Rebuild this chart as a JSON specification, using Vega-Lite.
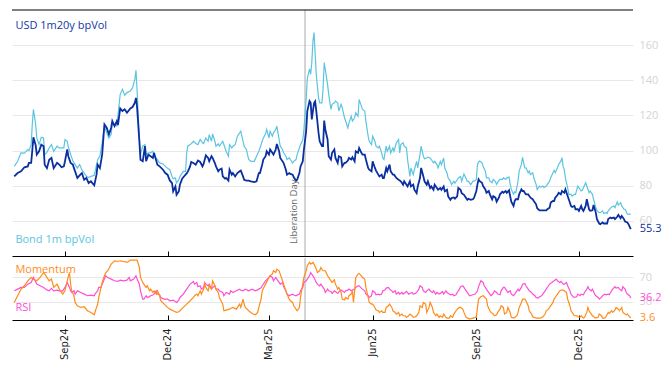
{
"$schema": "https://vega.github.io/schema/vega-lite/v6.json",
"padding": {"left": 10, "top": 9, "right": 0, "bottom": 0},
"background": "white",
"spacing": 0,
"config": {"view": {"stroke": null}, "font": "Open Sans"},
"datasets": {
"vol": [
{"d":"2024-07-18","u":85.3,"b":91},{"d":"2024-07-21","u":87.2,"b":93.9},{"d":"2024-07-24","u":88.2,"b":98.7},{"d":"2024-07-27","u":90.5,"b":98.5},{"d":"2024-07-30","u":91,"b":100.6},{"d":"2024-07-31","u":93,"b":100},{"d":"2024-08-02","u":93,"b":103.4},{"d":"2024-08-03","u":100,"b":114.9},{"d":"2024-08-04","u":107.6,"b":123.4},{"d":"2024-08-06","u":103,"b":114.9},{"d":"2024-08-07","u":97.7,"b":107.2},{"d":"2024-08-09","u":99.6,"b":103.4},{"d":"2024-08-11","u":103.4,"b":107.6},{"d":"2024-08-13","u":102.5,"b":107.2},{"d":"2024-08-14","u":92,"b":97.7},{"d":"2024-08-16","u":90,"b":99},{"d":"2024-08-18","u":94.8,"b":101.5},{"d":"2024-08-20","u":95.8,"b":103.4},{"d":"2024-08-22","u":90,"b":99.6},{"d":"2024-08-25","u":93,"b":102.5},{"d":"2024-08-27","u":92,"b":101.5},{"d":"2024-08-29","u":90.5,"b":101.5},{"d":"2024-08-31","u":91,"b":101.5},
{"d":"2024-09-01","u":93.9,"b":106.3},{"d":"2024-09-03","u":100.6,"b":105.3},{"d":"2024-09-04","u":96.8,"b":102},{"d":"2024-09-06","u":93,"b":98},{"d":"2024-09-08","u":92,"b":94},{"d":"2024-09-09","u":90,"b":93},{"d":"2024-09-12","u":84.4,"b":90},{"d":"2024-09-14","u":85.9,"b":92},{"d":"2024-09-16","u":87.2,"b":89.1},{"d":"2024-09-18","u":83.4,"b":87.2},{"d":"2024-09-20","u":84.4,"b":85.3},{"d":"2024-09-22","u":81.5,"b":84.7},{"d":"2024-09-24","u":82.5,"b":85.3},{"d":"2024-09-27","u":80.2,"b":85.9},{"d":"2024-09-29","u":86.3,"b":92},{"d":"2024-09-30","u":92,"b":94.8},
{"d":"2024-10-02","u":90,"b":96.8},{"d":"2024-10-04","u":97.7,"b":104.4},{"d":"2024-10-06","u":114.9,"b":114},{"d":"2024-10-08","u":113,"b":110.1},{"d":"2024-10-10","u":109.2,"b":107},{"d":"2024-10-12","u":113,"b":109.2},{"d":"2024-10-13","u":116.8,"b":115.8},{"d":"2024-10-15","u":113.9,"b":114.9},{"d":"2024-10-17","u":116.8,"b":114},{"d":"2024-10-18","u":114.5,"b":120},{"d":"2024-10-20","u":124,"b":132},{"d":"2024-10-22","u":122.5,"b":134.9},{"d":"2024-10-24","u":123.5,"b":131.5},{"d":"2024-10-26","u":121.5,"b":133},{"d":"2024-10-29","u":124,"b":133.9},{"d":"2024-10-31","u":124.8,"b":135.8},
{"d":"2024-11-02","u":127.2,"b":140.5},{"d":"2024-11-03","u":130,"b":145.7},{"d":"2024-11-04","u":124.4,"b":133.9},{"d":"2024-11-06","u":105.3,"b":107.2},{"d":"2024-11-07","u":94.8,"b":97.7},{"d":"2024-11-09","u":93.9,"b":102.5},{"d":"2024-11-11","u":102.5,"b":103.4},{"d":"2024-11-12","u":93.9,"b":97.7},{"d":"2024-11-14","u":97.7,"b":98.7},{"d":"2024-11-16","u":96.8,"b":98.7},{"d":"2024-11-18","u":95.8,"b":99.6},{"d":"2024-11-19","u":98.7,"b":97},{"d":"2024-11-22","u":92,"b":94.8},{"d":"2024-11-24","u":91,"b":93},{"d":"2024-11-27","u":89.1,"b":92.4},{"d":"2024-11-29","u":87.2,"b":91},
{"d":"2024-12-01","u":86.3,"b":90},{"d":"2024-12-03","u":83,"b":89.1},{"d":"2024-12-05","u":81.5,"b":85.3},{"d":"2024-12-06","u":76.8,"b":84},{"d":"2024-12-08","u":79.6,"b":84.4},{"d":"2024-12-09","u":74.9,"b":81.5},{"d":"2024-12-11","u":76.8,"b":83.4},{"d":"2024-12-12","u":80.6,"b":85.3},{"d":"2024-12-14","u":84,"b":87.2},{"d":"2024-12-15","u":84.8,"b":88.2},{"d":"2024-12-17","u":86.3,"b":88.2},{"d":"2024-12-18","u":87,"b":98.7},{"d":"2024-12-19","u":88,"b":102.5},{"d":"2024-12-21","u":91,"b":103.4},{"d":"2024-12-22","u":93.5,"b":103.8},{"d":"2024-12-24","u":92.9,"b":105.3},{"d":"2024-12-26","u":92,"b":104},{"d":"2024-12-28","u":94.3,"b":103.4},{"d":"2024-12-30","u":93.5,"b":106.3},
{"d":"2025-01-01","u":91,"b":104.4},{"d":"2025-01-02","u":92.4,"b":104},{"d":"2025-01-04","u":97.3,"b":107.2},{"d":"2025-01-06","u":95.8,"b":105.3},{"d":"2025-01-07","u":93.9,"b":109.1},{"d":"2025-01-09","u":96.8,"b":105.3},{"d":"2025-01-10","u":95.8,"b":109.5},{"d":"2025-01-12","u":92.9,"b":105.3},{"d":"2025-01-13","u":91,"b":102.5},{"d":"2025-01-15","u":88.2,"b":103.8},{"d":"2025-01-16","u":89.1,"b":102.5},{"d":"2025-01-18","u":89.7,"b":104.4},{"d":"2025-01-19","u":85.3,"b":105.3},{"d":"2025-01-21","u":84,"b":101.5},{"d":"2025-01-22","u":84.4,"b":99.6},{"d":"2025-01-24","u":82.9,"b":96.8},{"d":"2025-01-25","u":89.1,"b":103.4},{"d":"2025-01-27","u":86.3,"b":101.5},{"d":"2025-01-28","u":87.2,"b":102.5},{"d":"2025-01-30","u":85.3,"b":103.4},
{"d":"2025-02-01","u":87.2,"b":108.2},{"d":"2025-02-03","u":88.2,"b":110.1},{"d":"2025-02-04","u":88.6,"b":111},{"d":"2025-02-06","u":85.3,"b":105.3},{"d":"2025-02-07","u":83.4,"b":102.5},{"d":"2025-02-09","u":82.9,"b":100.6},{"d":"2025-02-11","u":82.9,"b":94.9},{"d":"2025-02-13","u":82.5,"b":93.9},{"d":"2025-02-16","u":82.1,"b":93.9},{"d":"2025-02-18","u":82.5,"b":96.8},{"d":"2025-02-20","u":87.2,"b":99.6},{"d":"2025-02-21","u":87.2,"b":101.5},{"d":"2025-02-23","u":92,"b":105.3},{"d":"2025-02-24","u":94.9,"b":107.2},{"d":"2025-02-26","u":96.8,"b":109.5},{"d":"2025-02-27","u":99.6,"b":112},
{"d":"2025-03-01","u":97.7,"b":107.2},{"d":"2025-03-02","u":100.6,"b":111},{"d":"2025-03-04","u":98.7,"b":108.2},{"d":"2025-03-05","u":97.7,"b":110.1},{"d":"2025-03-07","u":100.6,"b":112},{"d":"2025-03-08","u":103.8,"b":113.9},{"d":"2025-03-10","u":99.6,"b":106.3},{"d":"2025-03-11","u":95.8,"b":102.5},{"d":"2025-03-13","u":93.9,"b":100.6},{"d":"2025-03-14","u":92.9,"b":98.7},{"d":"2025-03-16","u":89.1,"b":96.8},{"d":"2025-03-17","u":86.3,"b":94.9},{"d":"2025-03-19","u":87.2,"b":95.8},{"d":"2025-03-20","u":86.7,"b":94.9},{"d":"2025-03-22","u":86.3,"b":92.9},{"d":"2025-03-23","u":84.8,"b":93.9},{"d":"2025-03-25","u":82.9,"b":94.9},{"d":"2025-03-26","u":83.4,"b":97.7},{"d":"2025-03-28","u":87.2,"b":101.5},{"d":"2025-03-29","u":91,"b":103.4},{"d":"2025-03-31","u":93.9,"b":106},
{"d":"2025-04-01","u":100.6,"b":112},{"d":"2025-04-03","u":111,"b":129},{"d":"2025-04-04","u":122.5,"b":141},{"d":"2025-04-06","u":128.2,"b":146.5},{"d":"2025-04-07","u":127.2,"b":143.4},{"d":"2025-04-08","u":117.7,"b":150},{"d":"2025-04-09","u":122.5,"b":162},{"d":"2025-04-10","u":127,"b":167.2},{"d":"2025-04-11","u":128,"b":154.9},{"d":"2025-04-12","u":122.5,"b":143},{"d":"2025-04-14","u":110,"b":130},{"d":"2025-04-15","u":105.3,"b":127.2},{"d":"2025-04-17","u":102.5,"b":127.2},{"d":"2025-04-18","u":102.5,"b":135},{"d":"2025-04-19","u":117.1,"b":150},{"d":"2025-04-20","u":112,"b":146},{"d":"2025-04-22","u":106.3,"b":137.7},{"d":"2025-04-23","u":96.8,"b":132},{"d":"2025-04-25","u":94.9,"b":123.4},{"d":"2025-04-26","u":98.7,"b":126.3},{"d":"2025-04-28","u":100.6,"b":127.2},{"d":"2025-04-29","u":95.8,"b":128.2},
{"d":"2025-05-01","u":93,"b":127.2},{"d":"2025-05-02","u":96.8,"b":122.5},{"d":"2025-05-04","u":96.2,"b":126.3},{"d":"2025-05-05","u":91,"b":124.4},{"d":"2025-05-07","u":93,"b":118.7},{"d":"2025-05-08","u":93,"b":116.8},{"d":"2025-05-10","u":94.3,"b":112.9},{"d":"2025-05-11","u":95.8,"b":115.8},{"d":"2025-05-13","u":94.9,"b":119.6},{"d":"2025-05-14","u":96.2,"b":116.8},{"d":"2025-05-16","u":93.9,"b":118.7},{"d":"2025-05-17","u":99.6,"b":121.5},{"d":"2025-05-19","u":98.7,"b":119.6},{"d":"2025-05-20","u":101.5,"b":129.1},{"d":"2025-05-22","u":98.7,"b":125.3},{"d":"2025-05-23","u":97.7,"b":123.4},{"d":"2025-05-25","u":97.7,"b":122.5},{"d":"2025-05-26","u":94.9,"b":116.8},{"d":"2025-05-28","u":90.1,"b":108.2},{"d":"2025-05-29","u":89.1,"b":105.3},{"d":"2025-05-31","u":88.2,"b":103.4},
{"d":"2025-06-01","u":93.9,"b":108.2},{"d":"2025-06-03","u":90.1,"b":105.3},{"d":"2025-06-04","u":88.6,"b":102.5},{"d":"2025-06-06","u":86.3,"b":101.5},{"d":"2025-06-07","u":85.3,"b":102.5},{"d":"2025-06-09","u":86.3,"b":98.7},{"d":"2025-06-10","u":84.4,"b":95.8},{"d":"2025-06-11","u":84.4,"b":94.9},{"d":"2025-06-13","u":90.1,"b":102.5},{"d":"2025-06-14","u":88.2,"b":99.6},{"d":"2025-06-16","u":92,"b":102.5},{"d":"2025-06-17","u":88.2,"b":98.7},{"d":"2025-06-19","u":86.3,"b":101.5},{"d":"2025-06-20","u":86.3,"b":99.6},{"d":"2025-06-22","u":84.4,"b":104.4},{"d":"2025-06-24","u":83.4,"b":106.3},{"d":"2025-06-25","u":83,"b":98.7},{"d":"2025-06-26","u":82.5,"b":103.4},{"d":"2025-06-28","u":80.6,"b":104.4},{"d":"2025-06-29","u":82.5,"b":102.5},
{"d":"2025-07-01","u":80.6,"b":101.5},{"d":"2025-07-02","u":79.6,"b":94.9},{"d":"2025-07-04","u":82.5,"b":85.3},{"d":"2025-07-05","u":79.6,"b":90.1},{"d":"2025-07-07","u":80.6,"b":86.3},{"d":"2025-07-08","u":77.7,"b":89.1},{"d":"2025-07-10","u":75.8,"b":93.9},{"d":"2025-07-11","u":79.6,"b":90.1},{"d":"2025-07-13","u":84.4,"b":97.7},{"d":"2025-07-14","u":90.1,"b":102.5},{"d":"2025-07-16","u":85.3,"b":96.8},{"d":"2025-07-17","u":82.5,"b":95.4},{"d":"2025-07-19","u":80.6,"b":95.8},{"d":"2025-07-20","u":82.5,"b":96.2},{"d":"2025-07-22","u":78.7,"b":95.8},{"d":"2025-07-23","u":79.6,"b":94.9},{"d":"2025-07-25","u":77.7,"b":93},{"d":"2025-07-26","u":80.6,"b":93.9},{"d":"2025-07-28","u":78.7,"b":92},{"d":"2025-07-29","u":77.7,"b":90.1},{"d":"2025-07-31","u":78.7,"b":93.9},
{"d":"2025-08-01","u":77.7,"b":92},{"d":"2025-08-03","u":79.6,"b":95.8},{"d":"2025-08-04","u":76.8,"b":90.1},{"d":"2025-08-06","u":77.7,"b":87.2},{"d":"2025-08-07","u":73.9,"b":84.4},{"d":"2025-08-09","u":72,"b":82.5},{"d":"2025-08-10","u":73,"b":80.6},{"d":"2025-08-12","u":73.3,"b":82.5},{"d":"2025-08-13","u":72.6,"b":81.5},{"d":"2025-08-15","u":73.9,"b":83.4},{"d":"2025-08-16","u":78.7,"b":84.4},{"d":"2025-08-18","u":77.7,"b":85.3},{"d":"2025-08-19","u":75.8,"b":82.5},{"d":"2025-08-21","u":74.8,"b":86.7},{"d":"2025-08-22","u":73.9,"b":85.3},{"d":"2025-08-24","u":72,"b":82.5},{"d":"2025-08-25","u":72.6,"b":82.5},{"d":"2025-08-27","u":72,"b":80.6},{"d":"2025-08-29","u":72.3,"b":82.6},{"d":"2025-08-30","u":73.2,"b":82.6},
{"d":"2025-09-01","u":77,"b":83.6},{"d":"2025-09-02","u":80.8,"b":92.1},{"d":"2025-09-03","u":83.6,"b":93.5},{"d":"2025-09-04","u":82.6,"b":94},{"d":"2025-09-06","u":81.7,"b":93},{"d":"2025-09-07","u":79.8,"b":91.1},{"d":"2025-09-09","u":77.9,"b":88.3},{"d":"2025-09-10","u":76,"b":84.5},{"d":"2025-09-12","u":77,"b":84.5},{"d":"2025-09-13","u":75.1,"b":82.6},{"d":"2025-09-15","u":72.3,"b":81.7},{"d":"2025-09-16","u":74.1,"b":83.6},{"d":"2025-09-18","u":73.2,"b":82.3},{"d":"2025-09-19","u":70.9,"b":80.8},{"d":"2025-09-21","u":73.2,"b":83},{"d":"2025-09-22","u":75.1,"b":83.6},{"d":"2025-09-24","u":76.6,"b":83.6},{"d":"2025-09-25","u":76,"b":84.5},{"d":"2025-09-27","u":77,"b":83.6},{"d":"2025-09-28","u":76,"b":84.5},{"d":"2025-09-30","u":77.4,"b":84.9},
{"d":"2025-10-01","u":74.1,"b":81},{"d":"2025-10-02","u":70.9,"b":77.9},{"d":"2025-10-04","u":68.5,"b":75.1},{"d":"2025-10-05","u":71.3,"b":76.5},{"d":"2025-10-06","u":72.3,"b":76},{"d":"2025-10-08","u":72.3,"b":82.6},{"d":"2025-10-09","u":75.1,"b":88.3},{"d":"2025-10-11","u":77.9,"b":92.1},{"d":"2025-10-12","u":77,"b":96.2},{"d":"2025-10-13","u":77,"b":93},{"d":"2025-10-14","u":76,"b":90.2},{"d":"2025-10-15","u":75.1,"b":90.2},{"d":"2025-10-17","u":75.1,"b":87.4},{"d":"2025-10-18","u":74.1,"b":88.3},{"d":"2025-10-19","u":73.2,"b":86.4},{"d":"2025-10-21","u":72.3,"b":87.4},{"d":"2025-10-22","u":71.3,"b":84.5},{"d":"2025-10-24","u":69.4,"b":80.8},{"d":"2025-10-25","u":67.2,"b":77.9},{"d":"2025-10-27","u":66,"b":79.8},{"d":"2025-10-28","u":66,"b":79.2},{"d":"2025-10-30","u":66,"b":79.8},{"d":"2025-10-31","u":66,"b":78.9},
{"d":"2025-11-02","u":66,"b":79.8},{"d":"2025-11-03","u":66.6,"b":80.8},{"d":"2025-11-05","u":67.5,"b":82.6},{"d":"2025-11-06","u":70.4,"b":84.5},{"d":"2025-11-08","u":71.3,"b":87.4},{"d":"2025-11-09","u":71.3,"b":88.7},{"d":"2025-11-10","u":73.2,"b":87.4},{"d":"2025-11-12","u":74.7,"b":90.2},{"d":"2025-11-13","u":76,"b":92.1},{"d":"2025-11-15","u":75.1,"b":94},{"d":"2025-11-16","u":77,"b":96},{"d":"2025-11-17","u":76.5,"b":91},{"d":"2025-11-18","u":76,"b":89.2},{"d":"2025-11-19","u":77.9,"b":84.5},{"d":"2025-11-21","u":74.1,"b":78.9},{"d":"2025-11-22","u":72.3,"b":75.1},{"d":"2025-11-24","u":68.5,"b":75.1},{"d":"2025-11-25","u":67.9,"b":74.1},{"d":"2025-11-27","u":68.5,"b":75.1},{"d":"2025-11-28","u":66.6,"b":75.1},{"d":"2025-11-30","u":66.6,"b":79.8},
{"d":"2025-12-01","u":65.7,"b":78.9},{"d":"2025-12-03","u":68.5,"b":77},{"d":"2025-12-04","u":66.6,"b":77.4},{"d":"2025-12-05","u":65.7,"b":78.9},{"d":"2025-12-07","u":68.5,"b":81.7},{"d":"2025-12-08","u":72.3,"b":79.8},{"d":"2025-12-10","u":66.6,"b":76},{"d":"2025-12-11","u":65.7,"b":77},{"d":"2025-12-13","u":66,"b":75.1},{"d":"2025-12-14","u":69,"b":72.3},{"d":"2025-12-16","u":64.7,"b":67.5},{"d":"2025-12-17","u":61,"b":66},{"d":"2025-12-19","u":58.5,"b":64.7},{"d":"2025-12-20","u":58.1,"b":64.7},{"d":"2025-12-22","u":59.1,"b":65.7},{"d":"2025-12-23","u":58.5,"b":64.2},{"d":"2025-12-25","u":58.5,"b":64.7},{"d":"2025-12-26","u":58.5,"b":64.2},{"d":"2025-12-27","u":61,"b":65.7},{"d":"2025-12-29","u":61.9,"b":67.2},{"d":"2025-12-30","u":61.5,"b":67.9},
{"d":"2026-01-01","u":61.9,"b":68.5},{"d":"2026-01-02","u":61,"b":67.5},{"d":"2026-01-04","u":62.3,"b":70.8},{"d":"2026-01-05","u":63.4,"b":69},{"d":"2026-01-07","u":61.5,"b":70.4},{"d":"2026-01-08","u":62.8,"b":68.5},{"d":"2026-01-10","u":61,"b":66.6},{"d":"2026-01-11","u":59.6,"b":66.6},{"d":"2026-01-13","u":59.1,"b":63.8},{"d":"2026-01-14","u":58.1,"b":63.8},{"d":"2026-01-16","u":55.3,"b":63.8}
],
"osc": [
{"d":"2024-07-18","m":28.9,"r":48},{"d":"2024-07-21","m":39.9,"r":50.8},{"d":"2024-07-24","m":50.8,"r":53.6},{"d":"2024-07-27","m":56.3,"r":53.6},{"d":"2024-07-30","m":64.5,"r":59},{"d":"2024-08-02","m":70,"r":61.8},{"d":"2024-08-04","m":67.3,"r":70},{"d":"2024-08-07","m":64.5,"r":59},{"d":"2024-08-10","m":70,"r":56.3},{"d":"2024-08-13","m":78.2,"r":53.6},{"d":"2024-08-16","m":70,"r":49.5},{"d":"2024-08-18","m":64.5,"r":48},{"d":"2024-08-20","m":67.3,"r":52},{"d":"2024-08-22","m":53.6,"r":48},{"d":"2024-08-25","m":59,"r":49},{"d":"2024-08-27","m":50.8,"r":48},{"d":"2024-08-30","m":42.6,"r":48},
{"d":"2024-09-01","m":48,"r":53.6},{"d":"2024-09-03","m":64.5,"r":61.8},{"d":"2024-09-05","m":78.2,"r":53.6},{"d":"2024-09-06","m":59,"r":48},{"d":"2024-09-07","m":48,"r":45.3},{"d":"2024-09-09","m":39.9,"r":48},{"d":"2024-09-10","m":28.9,"r":42.6},{"d":"2024-09-12","m":23.4,"r":48},{"d":"2024-09-15","m":20.7,"r":45.3},{"d":"2024-09-18","m":21.8,"r":42.6},{"d":"2024-09-21","m":15.2,"r":39.9},{"d":"2024-09-24","m":12.5,"r":41},{"d":"2024-09-27","m":8.6,"r":39.9},{"d":"2024-09-28","m":15.2,"r":44},{"d":"2024-09-30","m":26.2,"r":48},
{"d":"2024-10-01","m":37.1,"r":53.6},{"d":"2024-10-03","m":53.6,"r":53.6},{"d":"2024-10-04","m":61.8,"r":59},{"d":"2024-10-06","m":72.7,"r":67.3},{"d":"2024-10-07","m":77,"r":72.7},{"d":"2024-10-09","m":81,"r":70},{"d":"2024-10-12","m":91.9,"r":67.3},{"d":"2024-10-15","m":97.4,"r":64.5},{"d":"2024-10-18","m":96.3,"r":63.4},{"d":"2024-10-20","m":97.4,"r":65.6},{"d":"2024-10-23","m":96.3,"r":64.5},{"d":"2024-10-26","m":94.7,"r":65.6},{"d":"2024-10-28","m":97,"r":70},{"d":"2024-10-29","m":98.5,"r":64.5},
{"d":"2024-11-01","m":98.5,"r":67.3},{"d":"2024-11-03","m":98.5,"r":72.7},{"d":"2024-11-04","m":98.5,"r":67.3},{"d":"2024-11-06","m":86.4,"r":59},{"d":"2024-11-07","m":70,"r":48},{"d":"2024-11-09","m":61.8,"r":34.4},{"d":"2024-11-10","m":59,"r":34.4},{"d":"2024-11-12","m":53.6,"r":39.9},{"d":"2024-11-13","m":56.3,"r":37.1},{"d":"2024-11-15","m":48,"r":38.5},{"d":"2024-11-16","m":50.8,"r":39.9},{"d":"2024-11-18","m":45.3,"r":41},{"d":"2024-11-19","m":48,"r":42.6},{"d":"2024-11-21","m":42.6,"r":48},{"d":"2024-11-22","m":48,"r":42.6},{"d":"2024-11-24","m":39.9,"r":41.5},{"d":"2024-11-25","m":31.6,"r":37.1},{"d":"2024-11-28","m":26.2,"r":34.4},
{"d":"2024-12-01","m":20.7,"r":34.4},{"d":"2024-12-03","m":17.9,"r":31.6},{"d":"2024-12-06","m":15.2,"r":32.8},{"d":"2024-12-09","m":12.5,"r":28.9},{"d":"2024-12-11","m":13.5,"r":32.8},{"d":"2024-12-12","m":15.2,"r":37.1},{"d":"2024-12-15","m":20.7,"r":42.6},{"d":"2024-12-18","m":26.2,"r":50.8},{"d":"2024-12-21","m":31.6,"r":59},{"d":"2024-12-24","m":37.1,"r":63.4},{"d":"2024-12-25","m":40,"r":59},{"d":"2024-12-27","m":42.6,"r":61.8},{"d":"2024-12-28","m":39.9,"r":54.7},{"d":"2024-12-30","m":48,"r":56.3},{"d":"2024-12-31","m":42.6,"r":50.8},
{"d":"2025-01-02","m":50.8,"r":53.6},{"d":"2025-01-03","m":59,"r":61.8},{"d":"2025-01-04","m":53.6,"r":59},{"d":"2025-01-06","m":48,"r":56.3},{"d":"2025-01-07","m":56.3,"r":59},{"d":"2025-01-09","m":50.8,"r":50.8},{"d":"2025-01-10","m":64.5,"r":53.6},{"d":"2025-01-12","m":56.3,"r":56.3},{"d":"2025-01-13","m":50.8,"r":50.8},{"d":"2025-01-15","m":45.3,"r":50.8},{"d":"2025-01-16","m":37.1,"r":48},{"d":"2025-01-19","m":26.2,"r":45.3},{"d":"2025-01-20","m":15.2,"r":39.9},{"d":"2025-01-22","m":16.3,"r":45.3},{"d":"2025-01-25","m":17.9,"r":42.6},{"d":"2025-01-26","m":19,"r":48},{"d":"2025-01-28","m":20.7,"r":45.3},{"d":"2025-01-31","m":17.9,"r":48},
{"d":"2025-02-03","m":26.2,"r":50.8},{"d":"2025-02-04","m":20.7,"r":49},{"d":"2025-02-06","m":34.4,"r":48},{"d":"2025-02-07","m":26.2,"r":49.5},{"d":"2025-02-08","m":20.7,"r":50.8},{"d":"2025-02-11","m":15.2,"r":48},{"d":"2025-02-14","m":10.8,"r":50.8},{"d":"2025-02-17","m":8.6,"r":48},{"d":"2025-02-19","m":12.5,"r":49.5},{"d":"2025-02-20","m":20.7,"r":50.8},{"d":"2025-02-22","m":34.4,"r":53},{"d":"2025-02-23","m":48,"r":56.3},{"d":"2025-02-26","m":59,"r":64.5},
{"d":"2025-03-01","m":70,"r":70},{"d":"2025-03-02","m":73,"r":72.7},{"d":"2025-03-04","m":75.5,"r":70},{"d":"2025-03-05","m":81,"r":64.5},{"d":"2025-03-07","m":78.2,"r":70},{"d":"2025-03-08","m":83.7,"r":67.3},{"d":"2025-03-10","m":81,"r":61.8},{"d":"2025-03-11","m":75.5,"r":59},{"d":"2025-03-13","m":64.5,"r":61.8},{"d":"2025-03-14","m":59,"r":55},{"d":"2025-03-16","m":48,"r":48},{"d":"2025-03-17","m":42.6,"r":42.6},{"d":"2025-03-19","m":34.4,"r":39.9},{"d":"2025-03-20","m":31.6,"r":41},{"d":"2025-03-22","m":28.9,"r":42.6},{"d":"2025-03-23","m":23.4,"r":41},{"d":"2025-03-25","m":17.9,"r":39.9},{"d":"2025-03-26","m":15.2,"r":41},{"d":"2025-03-28","m":20.7,"r":42.6},{"d":"2025-03-29","m":37.1,"r":48},{"d":"2025-03-31","m":59,"r":53.6},
{"d":"2025-04-01","m":70,"r":61.8},{"d":"2025-04-03","m":81,"r":64.5},{"d":"2025-04-04","m":89.2,"r":67.3},{"d":"2025-04-06","m":94.7,"r":72.7},{"d":"2025-04-07","m":91.9,"r":78.2},{"d":"2025-04-09","m":94.7,"r":72.7},{"d":"2025-04-10","m":91.9,"r":70},{"d":"2025-04-12","m":83.7,"r":61.8},{"d":"2025-04-13","m":78.2,"r":59},{"d":"2025-04-15","m":81,"r":56.3},{"d":"2025-04-16","m":86.4,"r":59},{"d":"2025-04-18","m":81,"r":53.6},{"d":"2025-04-19","m":81,"r":50.8},{"d":"2025-04-20","m":81,"r":45.3},{"d":"2025-04-22","m":72.7,"r":50.8},{"d":"2025-04-23","m":70,"r":48},{"d":"2025-04-25","m":64.5,"r":47},{"d":"2025-04-26","m":61.8,"r":43.7},{"d":"2025-04-28","m":66.2,"r":48},{"d":"2025-04-29","m":59,"r":47},
{"d":"2025-05-01","m":50.8,"r":43.7},{"d":"2025-05-02","m":53.6,"r":46.4},{"d":"2025-05-04","m":45.3,"r":49.2},{"d":"2025-05-05","m":34.4,"r":48},{"d":"2025-05-07","m":32.8,"r":45.3},{"d":"2025-05-08","m":37.1,"r":48},{"d":"2025-05-10","m":34.4,"r":49.2},{"d":"2025-05-11","m":39.9,"r":50.8},{"d":"2025-05-13","m":42.6,"r":48},{"d":"2025-05-14","m":48,"r":49.2},{"d":"2025-05-15","m":28.9,"r":50},{"d":"2025-05-16","m":48,"r":50.8},{"d":"2025-05-17","m":70,"r":53.6},{"d":"2025-05-19","m":75.5,"r":56.3},{"d":"2025-05-20","m":76.6,"r":56.3},{"d":"2025-05-22","m":72.7,"r":52.5},{"d":"2025-05-23","m":70,"r":50.8},{"d":"2025-05-25","m":67.3,"r":48},{"d":"2025-05-26","m":53.6,"r":42.6},{"d":"2025-05-28","m":37.1,"r":39.9},{"d":"2025-05-29","m":28.9,"r":37.1},{"d":"2025-05-31","m":26.2,"r":39.9},
{"d":"2025-06-01","m":26.2,"r":48},{"d":"2025-06-03","m":20.7,"r":45.3},{"d":"2025-06-04","m":16.3,"r":41.5},{"d":"2025-06-06","m":15.2,"r":42.6},{"d":"2025-06-07","m":12.5,"r":41.5},{"d":"2025-06-09","m":15.2,"r":42.6},{"d":"2025-06-10","m":12.5,"r":48},{"d":"2025-06-12","m":12.5,"r":49.2},{"d":"2025-06-13","m":20.7,"r":52.5},{"d":"2025-06-15","m":23.4,"r":53.6},{"d":"2025-06-16","m":26.2,"r":50.8},{"d":"2025-06-18","m":20.7,"r":48},{"d":"2025-06-19","m":15.2,"r":45.3},{"d":"2025-06-21","m":12.5,"r":48},{"d":"2025-06-22","m":9.8,"r":42.6},{"d":"2025-06-24","m":12.5,"r":45.3},{"d":"2025-06-25","m":7,"r":42.6},{"d":"2025-06-27","m":9.8,"r":45.3},{"d":"2025-06-28","m":7,"r":42.6},{"d":"2025-06-30","m":7,"r":45.3},
{"d":"2025-07-01","m":4.3,"r":47},{"d":"2025-07-03","m":7,"r":42.6},{"d":"2025-07-04","m":9.8,"r":43.7},{"d":"2025-07-06","m":7,"r":45.3},{"d":"2025-07-07","m":4.3,"r":42.6},{"d":"2025-07-09","m":5.3,"r":43.7},{"d":"2025-07-10","m":7,"r":45.3},{"d":"2025-07-12","m":12.5,"r":50.8},{"d":"2025-07-13","m":23.4,"r":56.3},{"d":"2025-07-15","m":20.7,"r":53.6},{"d":"2025-07-16","m":28.9,"r":48},{"d":"2025-07-18","m":26.2,"r":45.3},{"d":"2025-07-19","m":12.5,"r":48},{"d":"2025-07-21","m":20.7,"r":50.8},{"d":"2025-07-22","m":28.9,"r":48},{"d":"2025-07-24","m":20.7,"r":45.3},{"d":"2025-07-25","m":12.5,"r":48},{"d":"2025-07-27","m":7,"r":42.6},{"d":"2025-07-28","m":9.8,"r":45.3},{"d":"2025-07-30","m":4.3,"r":42.6},{"d":"2025-07-31","m":7,"r":43.7},
{"d":"2025-08-02","m":4.3,"r":47},{"d":"2025-08-03","m":9.8,"r":42.6},{"d":"2025-08-05","m":4.3,"r":48},{"d":"2025-08-06","m":3.2,"r":45.3},{"d":"2025-08-08","m":3.2,"r":42.6},{"d":"2025-08-09","m":7,"r":41.5},{"d":"2025-08-11","m":4.3,"r":42.6},{"d":"2025-08-12","m":9.8,"r":39.9},{"d":"2025-08-14","m":15.2,"r":41.5},{"d":"2025-08-15","m":17.9,"r":45.3},{"d":"2025-08-17","m":20.7,"r":50.8},{"d":"2025-08-18","m":20.7,"r":54.7},{"d":"2025-08-20","m":17.9,"r":56.3},{"d":"2025-08-21","m":12.5,"r":53.6},{"d":"2025-08-23","m":4.3,"r":48},{"d":"2025-08-26","m":1.5,"r":39.9},{"d":"2025-08-29","m":3.2,"r":41.5},{"d":"2025-08-31","m":4.3,"r":42.6},
{"d":"2025-09-01","m":4.3,"r":45.3},{"d":"2025-09-02","m":20.7,"r":48},{"d":"2025-09-03","m":34.4,"r":55},{"d":"2025-09-05","m":38.2,"r":64.5},{"d":"2025-09-07","m":39.9,"r":61.8},{"d":"2025-09-08","m":38.2,"r":56.3},{"d":"2025-09-10","m":34.4,"r":50.8},{"d":"2025-09-11","m":23.4,"r":48},{"d":"2025-09-13","m":15.2,"r":42.6},{"d":"2025-09-14","m":12.5,"r":39.9},{"d":"2025-09-16","m":9.8,"r":43.7},{"d":"2025-09-17","m":7,"r":48},{"d":"2025-09-19","m":8.6,"r":45.3},{"d":"2025-09-20","m":12.5,"r":42.6},{"d":"2025-09-22","m":17.9,"r":41.5},{"d":"2025-09-23","m":23.4,"r":48},{"d":"2025-09-25","m":20.7,"r":53.6},{"d":"2025-09-26","m":9.8,"r":53.6},{"d":"2025-09-28","m":12.5,"r":48},{"d":"2025-09-29","m":20.7,"r":45.3},
{"d":"2025-10-01","m":12.5,"r":48},{"d":"2025-10-02","m":4.3,"r":42.6},{"d":"2025-10-04","m":3.2,"r":39.9},{"d":"2025-10-05","m":4.3,"r":42.6},{"d":"2025-10-07","m":7,"r":48},{"d":"2025-10-08","m":12.5,"r":50.8},{"d":"2025-10-09","m":20.7,"r":48},{"d":"2025-10-11","m":28.9,"r":53.6},{"d":"2025-10-12","m":34.4,"r":59},{"d":"2025-10-14","m":34.4,"r":60},{"d":"2025-10-15","m":31.6,"r":56.3},{"d":"2025-10-17","m":23.4,"r":50.8},{"d":"2025-10-18","m":15.2,"r":48},{"d":"2025-10-20","m":9.8,"r":45.3},{"d":"2025-10-21","m":5.3,"r":42.6},{"d":"2025-10-23","m":4,"r":39.9},{"d":"2025-10-24","m":3.2,"r":37.1},{"d":"2025-10-26","m":3.2,"r":36},{"d":"2025-10-27","m":3.2,"r":38.2},{"d":"2025-10-29","m":4,"r":39.9},{"d":"2025-10-30","m":5.3,"r":42.6},
{"d":"2025-11-01","m":9.8,"r":48},{"d":"2025-11-02","m":15.2,"r":50.8},{"d":"2025-11-04","m":17.9,"r":56.3},{"d":"2025-11-05","m":20.7,"r":59},{"d":"2025-11-07","m":26.2,"r":61.8},{"d":"2025-11-08","m":28.9,"r":63.4},{"d":"2025-11-09","m":34.4,"r":64.5},{"d":"2025-11-11","m":39.9,"r":67.3},{"d":"2025-11-12","m":42.6,"r":64.5},{"d":"2025-11-14","m":48,"r":61.8},{"d":"2025-11-15","m":49.2,"r":63.4},{"d":"2025-11-17","m":49.2,"r":59},{"d":"2025-11-18","m":48,"r":59},{"d":"2025-11-20","m":45.3,"r":61.8},{"d":"2025-11-21","m":34.4,"r":56.3},{"d":"2025-11-23","m":23.4,"r":48},{"d":"2025-11-24","m":15.2,"r":42.6},{"d":"2025-11-26","m":9.8,"r":38.2},{"d":"2025-11-27","m":7,"r":37.1},{"d":"2025-11-29","m":7,"r":38.2},{"d":"2025-11-30","m":5.3,"r":42.6},
{"d":"2025-12-02","m":4.3,"r":39.9},{"d":"2025-12-03","m":7,"r":42.6},{"d":"2025-12-05","m":3.2,"r":41.5},{"d":"2025-12-06","m":4.3,"r":45.3},{"d":"2025-12-08","m":12.5,"r":50.8},{"d":"2025-12-09","m":20.7,"r":54.7},{"d":"2025-12-10","m":15.2,"r":50.8},{"d":"2025-12-12","m":9.8,"r":48},{"d":"2025-12-13","m":7,"r":50.8},{"d":"2025-12-15","m":4.3,"r":42.6},{"d":"2025-12-16","m":3.2,"r":39.9},{"d":"2025-12-18","m":4.3,"r":37.1},{"d":"2025-12-19","m":9.8,"r":34.4},{"d":"2025-12-21","m":7,"r":37.1},{"d":"2025-12-22","m":3.2,"r":39.9},{"d":"2025-12-24","m":3.2,"r":42.6},{"d":"2025-12-25","m":5.3,"r":41.5},{"d":"2025-12-27","m":12.5,"r":42.6},{"d":"2025-12-28","m":10.8,"r":41.5},{"d":"2025-12-30","m":15.2,"r":48},{"d":"2025-12-31","m":12.5,"r":50.8},
{"d":"2026-01-02","m":16.3,"r":54.7},{"d":"2026-01-03","m":20.7,"r":52.5},{"d":"2026-01-05","m":17.9,"r":53.6},{"d":"2026-01-06","m":15.2,"r":50.8},{"d":"2026-01-08","m":20.7,"r":48},{"d":"2026-01-09","m":12.5,"r":54.7},{"d":"2026-01-11","m":9.8,"r":50.8},{"d":"2026-01-12","m":8.6,"r":45.3},{"d":"2026-01-13","m":9.8,"r":42.6},{"d":"2026-01-15","m":5.3,"r":39.9},{"d":"2026-01-16","m":3.6,"r":36.2}
]
},
"vconcat": [
{
"width": 621, "height": 246,
"layer": [
{"data": {"values": [{}]}, "mark": {"type": "rule", "color": "#aaaaaa", "strokeWidth": 1},
 "encoding": {"x": {"datum": {"year": 2025, "month": 4, "date": 2}, "type": "temporal"}}},
{"data": {"name": "vol"}, "mark": {"type": "line", "color": "#5bc5e0", "strokeWidth": 1.2},
 "encoding": {
  "x": {"field": "d", "type": "temporal",
        "scale": {"domain": [{"year": 2024, "month": 7, "date": 16}, {"year": 2026, "month": 1, "date": 18}]},
        "axis": {"values": [{"year": 2024, "month": 9, "date": 1}, {"year": 2024, "month": 12, "date": 1}, {"year": 2025, "month": 3, "date": 1}, {"year": 2025, "month": 6, "date": 1}, {"year": 2025, "month": 9, "date": 1}, {"year": 2025, "month": 12, "date": 1}],
                 "labels": false, "title": null, "orient": "bottom", "domainColor": "#000000", "tickColor": "#000000", "tickSize": -5, "gridColor": "#e6e6e6"}},
  "y": {"field": "b", "type": "quantitative", "scale": {"domain": [40, 180], "nice": false, "zero": false},
        "axis": {"orient": "right", "values": [60, 80, 100, 120, 140, 160], "title": null, "domain": false, "ticks": false,
                 "labelColor": "#d4d4d4", "labelFontSize": 11, "labelFont": "Open Sans", "labelPadding": 6, "gridColor": "#e8e8e8"}}
 }},
{"data": {"name": "vol"}, "mark": {"type": "line", "color": "#0a2fa0", "strokeWidth": 1.8},
 "encoding": {"x": {"field": "d", "type": "temporal"}, "y": {"field": "u", "type": "quantitative"}}},
{"data": {"values": [{}]}, "mark": {"type": "rule", "color": "#000000", "strokeWidth": 1},
 "encoding": {"y": {"datum": 180, "type": "quantitative"}}},
{"data": {"values": [{}]}, "mark": {"type": "text", "angle": 270, "align": "left", "baseline": "bottom", "dy": -6, "font": "Open Sans", "fontSize": 9.5, "color": "#666666"},
 "encoding": {"x": {"datum": {"year": 2025, "month": 4, "date": 2}, "type": "temporal"}, "y": {"datum": 46.9, "type": "quantitative"}, "text": {"value": "Liberation Day"}}},
{"data": {"values": [{}]}, "mark": {"type": "text", "align": "left", "baseline": "middle", "font": "Open Sans", "fontSize": 11, "color": "#1436a3"},
 "encoding": {"x": {"datum": {"year": 2024, "month": 7, "date": 19}, "type": "temporal"}, "y": {"datum": 171, "type": "quantitative"}, "text": {"value": "USD 1m20y bpVol"}}},
{"data": {"values": [{}]}, "mark": {"type": "text", "align": "left", "baseline": "middle", "font": "Open Sans", "fontSize": 11, "color": "#5bc5e0"},
 "encoding": {"x": {"datum": {"year": 2024, "month": 7, "date": 19}, "type": "temporal"}, "y": {"datum": 49.2, "type": "quantitative"}, "text": {"value": "Bond 1m bpVol"}}},
{"data": {"values": [{"d": "2026-01-16", "v": 55.3}]}, "mark": {"type": "text", "align": "left", "baseline": "middle", "dx": 9, "font": "Open Sans", "fontSize": 11, "color": "#0a2fa0"},
 "encoding": {"x": {"field": "d", "type": "temporal"}, "y": {"field": "v", "type": "quantitative"}, "text": {"field": "v", "type": "quantitative", "format": ".1f"}}}
]
},
{
"width": 621, "height": 62,
"layer": [
{"data": {"values": [{}]}, "mark": {"type": "rule", "color": "#aaaaaa", "strokeWidth": 1},
 "encoding": {"x": {"datum": {"year": 2025, "month": 4, "date": 2}, "type": "temporal"}}},
{"data": {"name": "osc"}, "mark": {"type": "line", "color": "#ff4fd6", "strokeWidth": 1.2},
 "encoding": {
  "x": {"field": "d", "type": "temporal",
        "scale": {"domain": [{"year": 2024, "month": 7, "date": 16}, {"year": 2026, "month": 1, "date": 18}]},
        "axis": {"values": [{"year": 2024, "month": 9, "date": 1}, {"year": 2024, "month": 12, "date": 1}, {"year": 2025, "month": 3, "date": 1}, {"year": 2025, "month": 6, "date": 1}, {"year": 2025, "month": 9, "date": 1}, {"year": 2025, "month": 12, "date": 1}],
                 "format": "%b%y", "labelAngle": -90, "labelFont": "DejaVu Sans", "labelFontSize": 10, "labelColor": "#222222", "labelPadding": 13,
                 "title": null, "orient": "bottom", "domainColor": "#000000", "tickColor": "#000000", "tickSize": -5, "gridColor": "#e6e6e6"}},
  "y": {"field": "r", "type": "quantitative", "scale": {"domain": [0, 102], "nice": false, "zero": false},
        "axis": {"orient": "right", "values": [30, 70], "title": null, "domain": false, "ticks": false,
                 "labelColor": "#d4d4d4", "labelFontSize": 11, "labelFont": "Open Sans", "labelPadding": 6, "gridColor": "#e8e8e8"}}
 }},
{"data": {"name": "osc"}, "mark": {"type": "line", "color": "#ff8c1a", "strokeWidth": 1.2},
 "encoding": {"x": {"field": "d", "type": "temporal"}, "y": {"field": "m", "type": "quantitative"}}},
{"data": {"values": [{}]}, "mark": {"type": "text", "align": "left", "baseline": "middle", "font": "Open Sans", "fontSize": 11, "color": "#ff8c1a"},
 "encoding": {"x": {"datum": {"year": 2024, "month": 7, "date": 19}, "type": "temporal"}, "y": {"datum": 81.5, "type": "quantitative"}, "text": {"value": "Momentum"}}},
{"data": {"values": [{}]}, "mark": {"type": "text", "align": "left", "baseline": "middle", "font": "Open Sans", "fontSize": 11, "color": "#ff4fd6"},
 "encoding": {"x": {"datum": {"year": 2024, "month": 7, "date": 19}, "type": "temporal"}, "y": {"datum": 19, "type": "quantitative"}, "text": {"value": "RSI"}}},
{"data": {"values": [{"d": "2026-01-16", "v": 36.2, "s": "RSI"}, {"d": "2026-01-16", "v": 3.6, "s": "Momentum"}]},
 "mark": {"type": "text", "align": "left", "baseline": "middle", "dx": 9, "font": "Open Sans", "fontSize": 11},
 "encoding": {"x": {"field": "d", "type": "temporal"}, "y": {"field": "v", "type": "quantitative"},
  "color": {"field": "s", "type": "nominal", "scale": {"domain": ["RSI", "Momentum"], "range": ["#ff4fd6", "#ff8c1a"]}, "legend": null},
  "text": {"field": "v", "type": "quantitative", "format": ".1f"}}}
]
}
]
}
